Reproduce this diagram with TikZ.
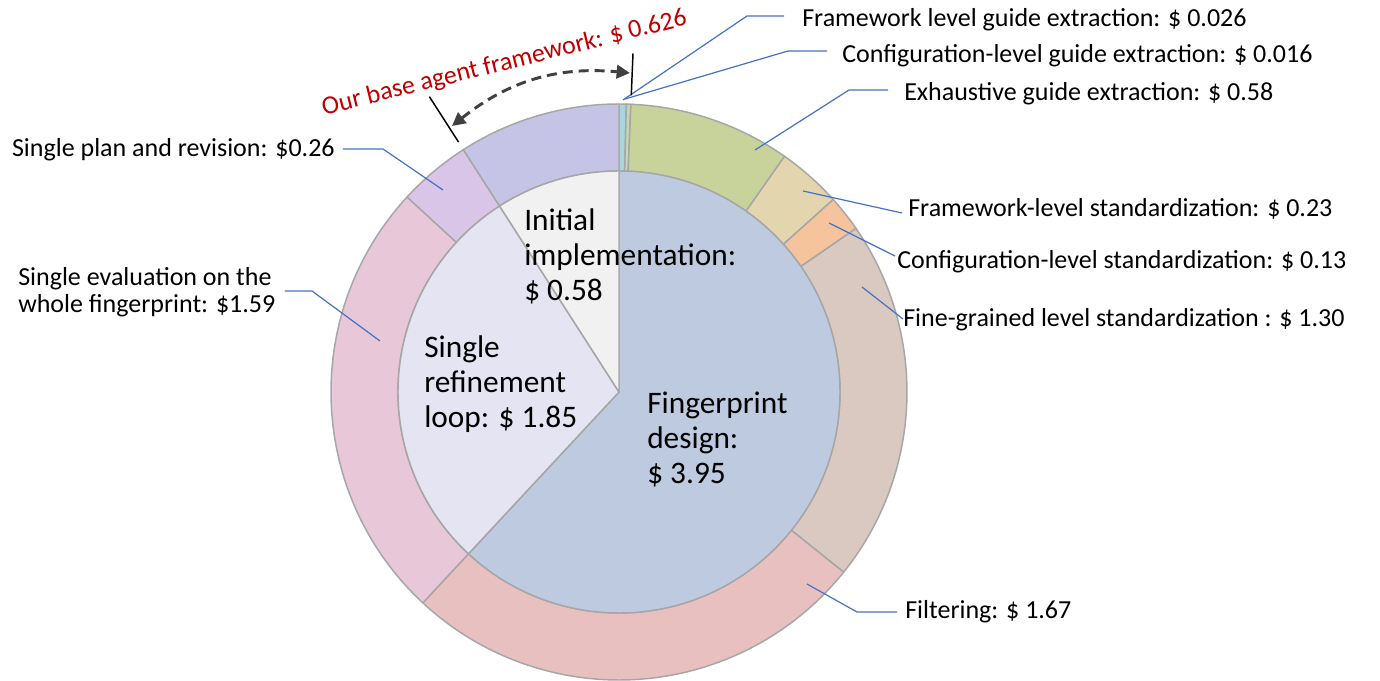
\documentclass[tikz,border=0pt]{standalone}
\usepackage{fontspec}
\setmainfont{Carlito}
\usetikzlibrary{arrows.meta}

\definecolor{segline}{HTML}{A6A6A6}
\definecolor{leadblue}{HTML}{4472C4}
\definecolor{ourred}{HTML}{C00000}
\definecolor{arrgray}{HTML}{404040}
\definecolor{cFp}{HTML}{BDCADF}
\definecolor{cLoop}{HTML}{E4E4F2}
\definecolor{cInit}{HTML}{F1F1F1}
\definecolor{cFwG}{HTML}{A8D5DE}
\definecolor{cCfgG}{HTML}{C5D9B0}
\definecolor{cExh}{HTML}{C8D29B}
\definecolor{cFwS}{HTML}{E3D6AE}
\definecolor{cCfgS}{HTML}{F5C39C}
\definecolor{cFine}{HTML}{D9C9C0}
\definecolor{cFilt}{HTML}{E9C0C0}
\definecolor{cEval}{HTML}{E7C7D8}
\definecolor{cPlan}{HTML}{D9C5E8}
\definecolor{cInitO}{HTML}{C6C4E6}

\tikzset{
  seg/.style={draw=segline, line width=1.1pt, line join=round},
  lead/.style={draw=leadblue, line width=0.9pt},
  lbl/.style={font=\fontsize{19.5}{20.25}\selectfont, inner sep=0pt},
  inlbl/.style={font=\fontsize{23.5}{26.25}\selectfont, inner sep=0pt, align=left, anchor=west},
  tickline/.style={draw=black, line width=1.1pt},
  spanarrow/.style={draw=arrgray, line width=2.2pt, dash pattern=on 7.5pt off 4.5pt,
    {Triangle[length=10pt,width=10pt]}-{Triangle[length=10pt,width=10pt]}}
}

\begin{document}
\begin{tikzpicture}[x=0.75pt, y=0.75pt]
    \fill[white] (-619,-289) rectangle (761,392);
    \useasboundingbox (-619,-289) rectangle (761,392);

    \draw[seg, fill=cFwG] (90:221) arc[start angle=90, end angle=88.53, radius=221] -- (88.53:288) arc[start angle=88.53, end angle=90, radius=288] -- cycle;
    \draw[seg, fill=cCfgG] (88.53:221) arc[start angle=88.53, end angle=87.63, radius=221] -- (87.63:288) arc[start angle=87.63, end angle=88.53, radius=288] -- cycle;
    \draw[seg, fill=cExh] (87.63:221) arc[start angle=87.63, end angle=54.91, radius=221] -- (54.91:288) arc[start angle=54.91, end angle=87.63, radius=288] -- cycle;
    \draw[seg, fill=cFwS] (54.91:221) arc[start angle=54.91, end angle=41.94, radius=221] -- (41.94:288) arc[start angle=41.94, end angle=54.91, radius=288] -- cycle;
    \draw[seg, fill=cCfgS] (41.94:221) arc[start angle=41.94, end angle=34.61, radius=221] -- (34.61:288) arc[start angle=34.61, end angle=41.94, radius=288] -- cycle;
    \draw[seg, fill=cFine] (34.61:221) arc[start angle=34.61, end angle=-38.73, radius=221] -- (-38.73:288) arc[start angle=-38.73, end angle=34.61, radius=288] -- cycle;
    \draw[seg, fill=cFilt] (-38.73:221) arc[start angle=-38.73, end angle=-132.93, radius=221] -- (-132.93:288) arc[start angle=-132.93, end angle=-38.73, radius=288] -- cycle;
    \draw[seg, fill=cEval] (-132.93:221) arc[start angle=-132.93, end angle=-222.62, radius=221] -- (-222.62:288) arc[start angle=-222.62, end angle=-132.93, radius=288] -- cycle;
    \draw[seg, fill=cPlan] (-222.62:221) arc[start angle=-222.62, end angle=-237.29, radius=221] -- (-237.29:288) arc[start angle=-237.29, end angle=-222.62, radius=288] -- cycle;
    \draw[seg, fill=cInitO] (-237.29:221) arc[start angle=-237.29, end angle=-270, radius=221] -- (-270:288) arc[start angle=-270, end angle=-237.29, radius=288] -- cycle;

    \draw[seg, fill=cFp] (0,0) -- (90:221) arc[start angle=90, end angle=-132.93, radius=221] -- cycle;
    \draw[seg, fill=cLoop] (0,0) -- (-132.93:221) arc[start angle=-132.93, end angle=-237.29, radius=221] -- cycle;
    \draw[seg, fill=cInit] (0,0) -- (-237.29:221) arc[start angle=-237.29, end angle=-270, radius=221] -- cycle;

    \node[inlbl] (inInit) at (-95,136) {Initial\\implementation:\\\$ 0.58};
    \node[inlbl] (inLoop) at (-195,8) {Single\\refinement\\loop: \$ 1.85};
    \node[inlbl] (inFp) at (28,-47) {Fingerprint\\design:\\\$ 3.95};

    \node[lbl, anchor=base west] (lFwGuide) at (183,365) {Framework level guide extraction: \$ 0.026};
    \node[lbl, anchor=base west] (lCfgGuide) at (223,329) {Configuration-level guide extraction: \$ 0.016};
    \node[lbl, anchor=base west] (lExh) at (285,291) {Exhaustive guide extraction: \$ 0.58};
    \node[lbl, anchor=base west] (lFwStd) at (289,175) {Framework-level standardization: \$ 0.23};
    \node[lbl, anchor=base west] (lCfgStd) at (278,123) {Configuration-level standardization: \$ 0.13};
    \node[lbl, anchor=base west] (lFine) at (284,65) {Fine-grained level standardization : \$ 1.30};
    \node[lbl, anchor=base west] (lFilt) at (286,-226) {Filtering: \$ 1.67};
    \node[lbl, anchor=base east] (lPlan) at (-284,235) {Single plan and revision: \$0.26};
    \node[lbl, align=left, anchor=west] (lEval) at (-601,100) {Single evaluation on the\\whole fingerprint: \$1.59};

    \coordinate (pFwGuide) at (4,292);
    \coordinate (kFwGuide) at (128,376);
    \coordinate (eFwGuide) at (165,376);
    \coordinate (pCfgGuide) at (6,293);
    \coordinate (kCfgGuide) at (169,341);
    \coordinate (eCfgGuide) at (208,341);
    \coordinate (pExh) at (136,242);
    \coordinate (kExh) at (230,302);
    \coordinate (eExh) at (269,302);
    \coordinate (pFwStd) at (184,201);
    \coordinate (eFwStd) at (283,179);
    \coordinate (pCfgStd) at (210,169);
    \coordinate (eCfgStd) at (276,136);
    \coordinate (pFine) at (243,105);
    \coordinate (eFine) at (284,73);
    \coordinate (pFilt) at (188,-192);
    \coordinate (kFilt) at (238,-220);
    \coordinate (eFilt) at (278,-220);
    \coordinate (pPlan) at (-176,202);
    \coordinate (kPlan) at (-236,243);
    \coordinate (ePlan) at (-276,243);
    \coordinate (pEval) at (-239,51);
    \coordinate (kEval) at (-307,101);
    \coordinate (eEval) at (-334,101);

    \draw[lead] (pFwGuide) -- (kFwGuide) -- (eFwGuide);
    \draw[lead] (pCfgGuide) -- (kCfgGuide) -- (eCfgGuide);
    \draw[lead] (pExh) -- (kExh) -- (eExh);
    \draw[lead] (pFwStd) -- (eFwStd);
    \draw[lead] (pCfgStd) -- (eCfgStd);
    \draw[lead] (pFine) -- (eFine);
    \draw[lead] (pFilt) -- (kFilt) -- (eFilt);
    \draw[lead] (pPlan) -- (kPlan) -- (ePlan);
    \draw[lead] (pEval) -- (kEval) -- (eEval);

    \coordinate (tickLin) at (122.7:297);
    \coordinate (tickLout) at (122.7:351);
    \coordinate (tickRin) at (87.63:297);
    \coordinate (tickRout) at (87.63:339);
    \draw[tickline] (tickLin) -- (tickLout);
    \draw[tickline] (tickRin) -- (tickRout);

    \coordinate (arrL) at (-167,266);
    \coordinate (arrR) at (11,319);
    \draw[spanarrow] (arrL) to[bend left=22] (arrR);
    \node[lbl, text=ourred, rotate=14, anchor=base] (lBase) at (-113,322) {Our base agent framework: \$ 0.626};
\end{tikzpicture}
\end{document}
